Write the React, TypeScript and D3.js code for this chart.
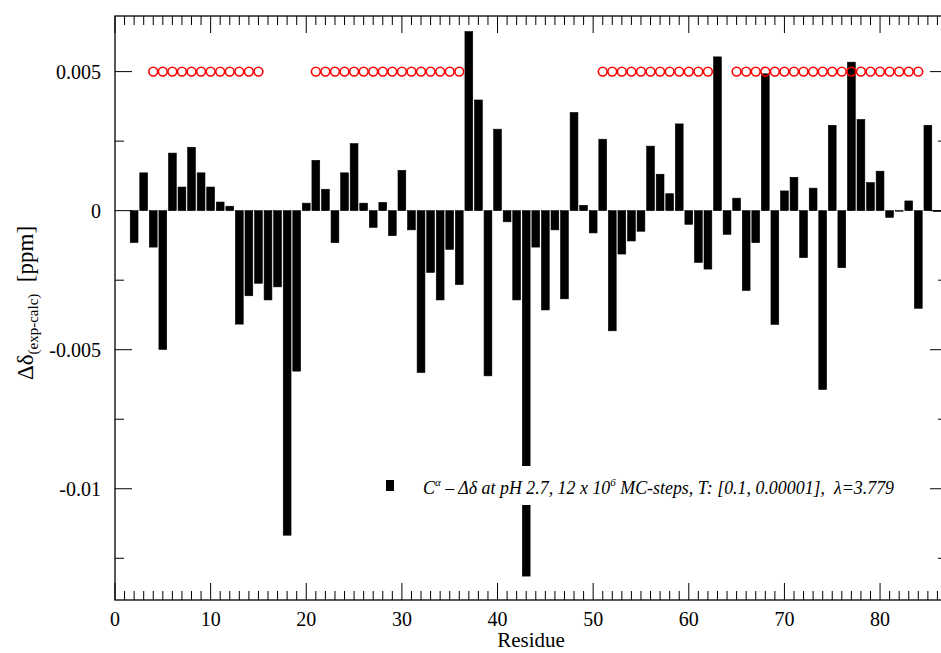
import React from "react";
import * as d3 from "d3";

const residues = [2,3,4,5,6,7,8,9,10,11,12,13,14,15,16,17,18,19,20,21,22,23,24,25,26,27,28,29,30,31,32,33,34,35,36,37,38,39,40,41,42,43,44,45,46,47,48,49,50,51,52,53,54,55,56,57,58,59,60,61,62,63,64,65,66,67,68,69,70,71,72,73,74,75,76,77,78,79,80,81,82,83,84,85,86];
const deltaValues = [
  -0.00115, 0.00136, -0.00131, -0.00499, 0.00207, 0.00085, 0.00228, 0.00136, 0.00085, 0.00031,
  0.00016, -0.00408, -0.00306, -0.00261, -0.00321, -0.00274, -0.01167, -0.00577, 0.00027, 0.00181,
  0.00077, -0.00115, 0.00136, 0.00241, 0.00027, -0.0006, 0.0003, -0.0009, 0.00145, -0.00069,
  -0.00582, -0.00222, -0.00321, -0.00139, -0.00266, 0.00644, 0.00398, -0.00594, 0.00293, -0.0004,
  -0.00321, -0.01314, -0.00131, -0.00357, -0.00069, -0.00317, 0.00353, 0.00019, -0.0008, 0.00257,
  -0.00432, -0.00156, -0.00109, -0.00074, 0.00232, 0.00131, 0.00061, 0.00312, -0.00049, -0.00186,
  -0.0021, 0.00553, -0.00085, 0.00045, -0.00287, -0.00115, 0.00492, -0.00409, 0.00071, 0.0012,
  -0.00169, 0.00081, -0.00643, 0.00307, -0.00205, 0.00534, 0.00328, 0.00101, 0.00142, -0.00024,
  -0.00002, 0.00035, -0.00351, 0.00307, -0.00003,
];
const markerResidues = [
  4,5,6,7,8,9,10,11,12,13,14,15,
  21,22,23,24,25,26,27,28,29,30,31,32,33,34,35,36,
  51,52,53,54,55,56,57,58,59,60,61,62,
  65,66,67,68,69,70,71,72,73,74,75,76,77,78,79,80,81,82,83,84,
];
const markerLevel = 0.005;
const xTickLabels = [0, 10, 20, 30, 40, 50, 60, 70, 80];
const yTickLabels = [-0.01, -0.005, 0, 0.005];
const yMinorTicks = [-0.0125, -0.0075, -0.0025, 0.0025];

const W = 941, H = 653;
const left = 115, right = 947, top = 16, bottom = 600;

export default function App() {
  const x = d3.scaleLinear().domain([0, 87]).range([left, right]);
  const y = d3.scaleLinear().domain([-0.014, 0.007]).range([bottom, top]);
  const xMinor = d3.range(0, 88, 1);
  const barW = 7.8;
  const serif = "'Liberation Serif', 'Times New Roman', serif";
  const fmtY = (v: number) => (v === 0 ? "0" : String(v));
  return (
    <svg width={W} height={H} style={{ position: "absolute", left: 0, top: 0, background: "#fff" }}>
      <rect x={0} y={0} width={W} height={H} fill="#fff" />
      {/* bars */}
      {residues.map((r, i) => {
        const v = deltaValues[i];
        const y0 = y(0), y1 = y(v);
        return (
          <rect key={r} x={x(r) - barW / 2} y={Math.min(y0, y1)} width={barW}
            height={Math.abs(y1 - y0)} fill="#000" stroke="#000" strokeWidth={0.6} />
        );
      })}
      {/* markers */}
      {markerResidues.map((r) => (
        <circle key={"m" + r} cx={x(r)} cy={y(markerLevel)} r={4.4} fill="none" stroke="#ff0000" strokeWidth={1.6} />
      ))}
      {/* frame */}
      <rect x={left} y={top} width={right - left} height={bottom - top} fill="none" stroke="#000" strokeWidth={1.3} />
      {/* x ticks */}
      {xMinor.map((t) => {
        const major = t % 10 === 0;
        const len = major ? 17 : 9;
        return (
          <g key={"xt" + t}>
            <line x1={x(t)} x2={x(t)} y1={bottom} y2={bottom - len} stroke="#000" strokeWidth={1} />
            <line x1={x(t)} x2={x(t)} y1={top} y2={top + len} stroke="#000" strokeWidth={1} />
          </g>
        );
      })}
      {xTickLabels.map((t) => (
        <text key={"xl" + t} x={x(t)} y={626} textAnchor="middle" fontFamily={serif} fontSize={20}>{t}</text>
      ))}
      {/* y ticks */}
      {yTickLabels.map((t) => (
        <g key={"yt" + t}>
          <line x1={left} x2={left + 17} y1={y(t)} y2={y(t)} stroke="#000" strokeWidth={1} />
          <line x1={right} x2={right - 17} y1={y(t)} y2={y(t)} stroke="#000" strokeWidth={1} />
          <text x={101} y={y(t) + 7} textAnchor="end" fontFamily={serif} fontSize={20}>{fmtY(t)}</text>
        </g>
      ))}
      {yMinorTicks.map((t) => (
        <g key={"ym" + t}>
          <line x1={left} x2={left + 9} y1={y(t)} y2={y(t)} stroke="#000" strokeWidth={1} />
          <line x1={right} x2={right - 9} y1={y(t)} y2={y(t)} stroke="#000" strokeWidth={1} />
        </g>
      ))}
      {/* axis titles */}
      <text x={531} y={647} textAnchor="middle" fontFamily={serif} fontSize={21}>Residue</text>
      <text transform="translate(33,303) rotate(-90)" textAnchor="middle" fontFamily={serif} fontSize={23} style={{ whiteSpace: "pre" }}>
        <tspan>Δδ</tspan>
        <tspan fontSize={15} dy={5}>(exp-calc)</tspan>
        <tspan dy={-5}>{"  [ppm]"}</tspan>
      </text>
      {/* legend */}
      <rect x={375} y={466} width={535} height={39} fill="#fff" />
      <rect x={386} y={480} width={8} height={11} fill="#000" />
      <text x={423} y={494} fontFamily={serif} fontSize={17.9} fontStyle="italic" style={{ whiteSpace: "pre" }}>
        <tspan>C</tspan>
        <tspan fontSize={11} dy={-8}>α</tspan>
        <tspan dy={8}>{" – Δδ at pH 2.7, 12 x 10"}</tspan>
        <tspan fontSize={11} dy={-8}>6</tspan>
        <tspan dy={8}>{" MC-steps, T: [0.1, 0.00001],  λ=3.779"}</tspan>
      </text>
    </svg>
  );
}
